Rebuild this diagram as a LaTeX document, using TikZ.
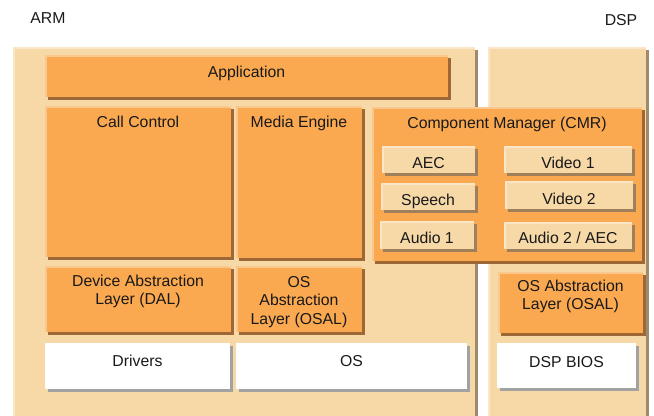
\documentclass[tikz,border=0pt]{standalone}
\usepackage{fontspec}
\setmainfont{Liberation Sans}
\usetikzlibrary{positioning, shadows}
\definecolor{paneltan}{HTML}{F7D9A7}
\definecolor{panelhi}{HTML}{FBE7C8}
\definecolor{panelshade}{HTML}{A08A6C}
\definecolor{layerorange}{HTML}{FBA950}
\definecolor{layerhi}{HTML}{FAC88E}
\definecolor{layershade}{HTML}{9E6836}
\definecolor{compshade}{HTML}{A0805A}
\definecolor{baseshade}{HTML}{A2A2A2}

\begin{document}
\begin{tikzpicture}[
    x=1bp, y=-1bp,
    every node/.style={outer sep=0pt},
    dims/.style 2 args={minimum width=#1bp, minimum height=#2bp},
    hilite/.style={path picture={\draw[#1, line width=4bp] (path picture bounding box.south west) -- (path picture bounding box.north west) -- (path picture bounding box.north east);}},
    blockbox/.style={anchor=north west, inner sep=0pt, draw=none},
    panel/.style={blockbox, fill=paneltan, hilite=panelhi, drop shadow={shadow xshift=3bp, shadow yshift=-3bp, fill=panelshade, opacity=1}},
    layer/.style={blockbox, fill=layerorange, hilite=layerhi, drop shadow={shadow xshift=3bp, shadow yshift=-3bp, fill=layershade, opacity=1}},
    comp/.style={blockbox, fill=paneltan, hilite=panelhi, drop shadow={shadow xshift=3bp, shadow yshift=-3bp, fill=compshade, opacity=1}},
    base/.style={blockbox, fill=white, drop shadow={shadow xshift=3bp, shadow yshift=-3bp, fill=baseshade, opacity=1}},
    txt/.style={font=\fontsize{15.8bp}{18.5bp}\selectfont, inner sep=0pt, align=center, text=black!90}
]
\useasboundingbox (0,0) rectangle (654,415);

% Processors
\node[txt, anchor=north] (arm-t) at (48,13) {ARM};
\node[txt, anchor=north] (dsp-t) at (621,14) {DSP};
\node[panel, dims={462}{372}] (arm) at (13,47) {};
\node[panel, dims={158}{372}] (dsp) at (488,47) {};

% ARM layers
\node[layer, dims={403}{42}] (app) at (45,55) {};
\node[layer, dims={186}{151}] (callctl) at (45,106) {};
\node[layer, dims={126}{152}] (media) at (236,106) {};
\node[layer, dims={186}{66}] (dal) at (45,266) {};
\node[layer, dims={126}{66}] (osal) at (236,266) {};
\node[base, dims={185}{46}] (drivers) at (45,343) {};
\node[base, dims={231}{46}] (os) at (236,343) {};

% Component manager
\node[layer, dims={270}{154}] (cmr) at (372,107) {};
\node[comp, dims={93}{27}] (aec) at (382,146) {};
\node[comp, dims={128}{27}] (video1) at (504,146) {};
\node[comp, dims={94}{27}] (speech) at (381,183) {};
\node[comp, dims={128}{28}] (video2) at (505,181) {};
\node[comp, dims={94}{28}] (audio1) at (380,221) {};
\node[comp, dims={128}{27}] (audio2) at (504,222) {};

% DSP layers
\node[layer, dims={145}{61}] (dsposal) at (498,272) {};
\node[base, dims={139}{45}] (dspbios) at (497,343) {};

% Labels
\node[txt, below=11bp of app.north] (app-t) {Application};
\node[txt, below=10bp of callctl.north] (callctl-t) {Call Control};
\node[txt, below=10bp of media.north] (media-t) {Media Engine};
\node[txt, below=9bp of dal.north] (dal-t) {Device Abstraction\\Layer (DAL)};
\node[txt, below=10bp of osal.north] (osal-t) {OS\\Abstraction\\Layer (OSAL)};
\node[txt, below=12bp of drivers.north] (drivers-t) {Drivers};
\node[txt, below=12bp of os.north] (os-t) {OS};
\node[txt, below=10bp of cmr.north] (cmr-t) {Component Manager (CMR)};
\node[txt, below=11bp of aec.north] (aec-t) {AEC};
\node[txt, below=11bp of video1.north] (video1-t) {Video 1};
\node[txt, below=11bp of speech.north] (speech-t) {Speech};
\node[txt, below=12bp of video2.north] (video2-t) {Video 2};
\node[txt, below=11bp of audio1.north] (audio1-t) {Audio 1};
\node[txt, below=10bp of audio2.north] (audio2-t) {Audio 2 / AEC};
\node[txt, below=8bp of dsposal.north] (dsposal-t) {OS Abstraction\\Layer (OSAL)};
\node[txt, below=13bp of dspbios.north] (dspbios-t) {DSP BIOS};

\end{tikzpicture}
\end{document}
